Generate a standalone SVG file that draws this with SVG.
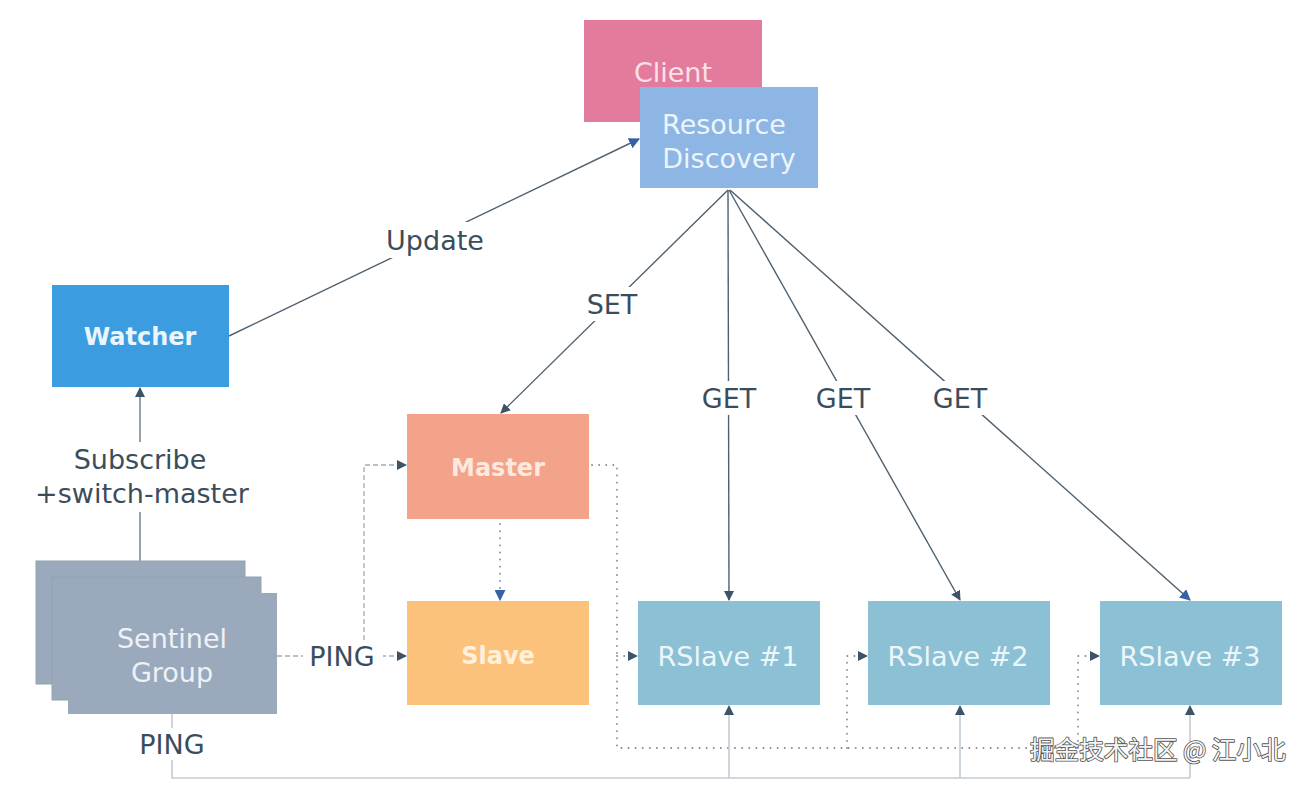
<svg xmlns="http://www.w3.org/2000/svg" width="1311" height="786" viewBox="0 0 1311 786">
<style>
  .lbl { font-family: "DejaVu Sans", Verdana, sans-serif; font-size: 27px; fill: #3b4d5c; text-anchor: middle; dominant-baseline: central; }
  .nt { font-family: "DejaVu Sans", Verdana, sans-serif; font-size: 27px; text-anchor: middle; dominant-baseline: central; }
  .nb { font-family: "DejaVu Sans", Verdana, sans-serif; font-size: 24px; font-weight: bold; text-anchor: middle; dominant-baseline: central; }
  .solid { fill: none; stroke: #4f6170; stroke-width: 1.4; }
  .ping { fill: none; stroke: #a3abb4; stroke-width: 1.3; stroke-dasharray: 5 3; }
  .dot { fill: none; stroke: #7f8a95; stroke-width: 1.8; stroke-dasharray: 0.1 7; stroke-linecap: round; }
  .light { fill: none; stroke: #c3cbd3; stroke-width: 1.6; }
  .bg { fill: #ffffff; }
</style>
<defs>
  <marker id="arr" viewBox="0 0 10 10" refX="9" refY="5" markerWidth="10" markerHeight="10" markerUnits="userSpaceOnUse" orient="auto">
    <path d="M0,0 L10,5 L0,10 z" fill="#3e5366"/>
  </marker>
  <marker id="arrB" viewBox="0 0 10 10" refX="9" refY="5" markerWidth="11" markerHeight="11" markerUnits="userSpaceOnUse" orient="auto">
    <path d="M0,0 L10,5 L0,10 z" fill="#3461a8"/>
  </marker>
</defs>
<rect width="1311" height="786" fill="#ffffff"/>

<g id="connectors">
  <!-- Update -->
  <line class="solid" x1="229" y1="336" x2="639" y2="139" marker-end="url(#arrB)"/>
  <rect class="bg" x="380" y="222" width="110" height="36"/>
  <text class="lbl" x="435" y="240">Update</text>
  <!-- SET -->
  <line class="solid" x1="728" y1="190" x2="501" y2="413" marker-end="url(#arr)"/>
  <rect class="bg" x="584" y="287" width="58" height="34"/>
  <text class="lbl" x="612" y="304">SET</text>
  <!-- GETs -->
  <line class="solid" x1="728" y1="190" x2="729" y2="600" marker-end="url(#arr)"/>
  <rect class="bg" x="698" y="381" width="62" height="34"/>
  <text class="lbl" x="729" y="398">GET</text>
  <line class="solid" x1="729" y1="190" x2="960" y2="600" marker-end="url(#arr)"/>
  <rect class="bg" x="812" y="381" width="62" height="34"/>
  <text class="lbl" x="843" y="398">GET</text>
  <line class="solid" x1="730" y1="190" x2="1190" y2="600" marker-end="url(#arrB)"/>
  <rect class="bg" x="929" y="381" width="62" height="34"/>
  <text class="lbl" x="960" y="398">GET</text>
  <!-- Subscribe -->
  <line class="solid" x1="140" y1="561" x2="140" y2="388" marker-end="url(#arr)" style="stroke:#6b7a88"/>
  <rect class="bg" x="30" y="442" width="225" height="70"/>
  <text class="lbl" x="140" y="459">Subscribe</text>
  <text class="lbl" x="142" y="493">+switch-master</text>
  <!-- PING to slave & master -->
  <line class="ping" x1="277" y1="656" x2="406" y2="656" marker-end="url(#arr)"/>
  <path class="ping" d="M364,656 L364,465 L406,465" marker-end="url(#arr)"/>
  <rect class="bg" x="303" y="640" width="80" height="34"/>
  <text class="lbl" x="342" y="656">PING</text>
  <!-- Master to Slave dotted -->
  <line class="dot" x1="500" y1="524" x2="500" y2="598" style="stroke:#6f86b0"/>
  <line x1="500" y1="590" x2="500" y2="600" stroke="none" marker-end="url(#arrB)"/>
  <!-- Master to RSlaves dotted -->
  <path class="dot" d="M592,465 L617,465 L617,748 L1078,748"/>
  <line class="dot" x1="617" y1="656" x2="632" y2="656"/>
  <line x1="628" y1="656" x2="637" y2="656" stroke="none" marker-end="url(#arr)"/>
  <path class="dot" d="M847,748 L847,656 L862,656"/>
  <line x1="858" y1="656" x2="867" y2="656" stroke="none" marker-end="url(#arr)"/>
  <path class="dot" d="M1078,748 L1078,656 L1093,656"/>
  <line x1="1089" y1="656" x2="1099" y2="656" stroke="none" marker-end="url(#arr)"/>
  <!-- Sentinel bottom PING -->
  <path class="light" d="M172,714 L172,778 L1190,778"/>
  <line class="light" x1="729" y1="778" x2="729" y2="706" marker-end="url(#arr)"/>
  <line class="light" x1="960" y1="778" x2="960" y2="706" marker-end="url(#arr)"/>
  <line class="light" x1="1190" y1="778" x2="1190" y2="706" marker-end="url(#arr)"/>
  <rect class="bg" x="132" y="728" width="80" height="32"/>
  <text class="lbl" x="172" y="744">PING</text>
</g>

<g id="client">
  <rect x="584" y="20" width="178" height="102" fill="#e27b9c"/>
  <text class="nt" x="673" y="72" fill="#fbe1ea">Client</text>
</g>
<g id="resource-discovery">
  <rect x="640" y="87" width="178" height="101" fill="#8db6e4"/>
  <text class="nt" x="724" y="124" fill="#eef4fb">Resource</text>
  <text class="nt" x="729" y="158" fill="#eef4fb">Discovery</text>
</g>
<g id="watcher">
  <rect x="52" y="285" width="177" height="102" fill="#3b9de0"/>
  <text class="nb" x="140" y="337" fill="#eaf5fd">Watcher</text>
</g>
<g id="master">
  <rect x="407" y="414" width="182" height="105" fill="#f3a389"/>
  <text class="nb" x="498" y="468" fill="#fde8de">Master</text>
</g>
<g id="slave">
  <rect x="407" y="601" width="182" height="104" fill="#fcc27c"/>
  <text class="nb" x="498" y="656" fill="#fff0dc">Slave</text>
</g>
<g id="rslave1">
  <rect x="638" y="601" width="182" height="104" fill="#8bc0d5"/>
  <text class="nt" x="728" y="656" fill="#ecf6f9">RSlave #1</text>
</g>
<g id="rslave2">
  <rect x="868" y="601" width="182" height="104" fill="#8bc0d5"/>
  <text class="nt" x="958" y="656" fill="#ecf6f9">RSlave #2</text>
</g>
<g id="rslave3">
  <rect x="1100" y="601" width="182" height="104" fill="#8bc0d5"/>
  <text class="nt" x="1190" y="656" fill="#ecf6f9">RSlave #3</text>
</g>
<g id="sentinel-group">
  <rect x="36" y="561" width="209" height="123" fill="#9ba9bc" stroke="#93a1b4" stroke-width="1"/>
  <rect x="52" y="577" width="209" height="123" fill="#9ba9bc" stroke="#93a1b4" stroke-width="1"/>
  <rect x="68" y="593" width="209" height="121" fill="#9ba9bc"/>
  <text class="nt" x="172" y="638" fill="#eef1f5">Sentinel</text>
  <text class="nt" x="172" y="672" fill="#eef1f5">Group</text>
</g>

<text x="1030" y="759" font-family="'Noto Sans CJK SC', 'DejaVu Sans', sans-serif" font-size="24.6" fill="#f4f4f4" stroke="#555555" stroke-width="1.7" paint-order="stroke" stroke-linejoin="round">掘金技术社区 @ 江小北</text>
</svg>
